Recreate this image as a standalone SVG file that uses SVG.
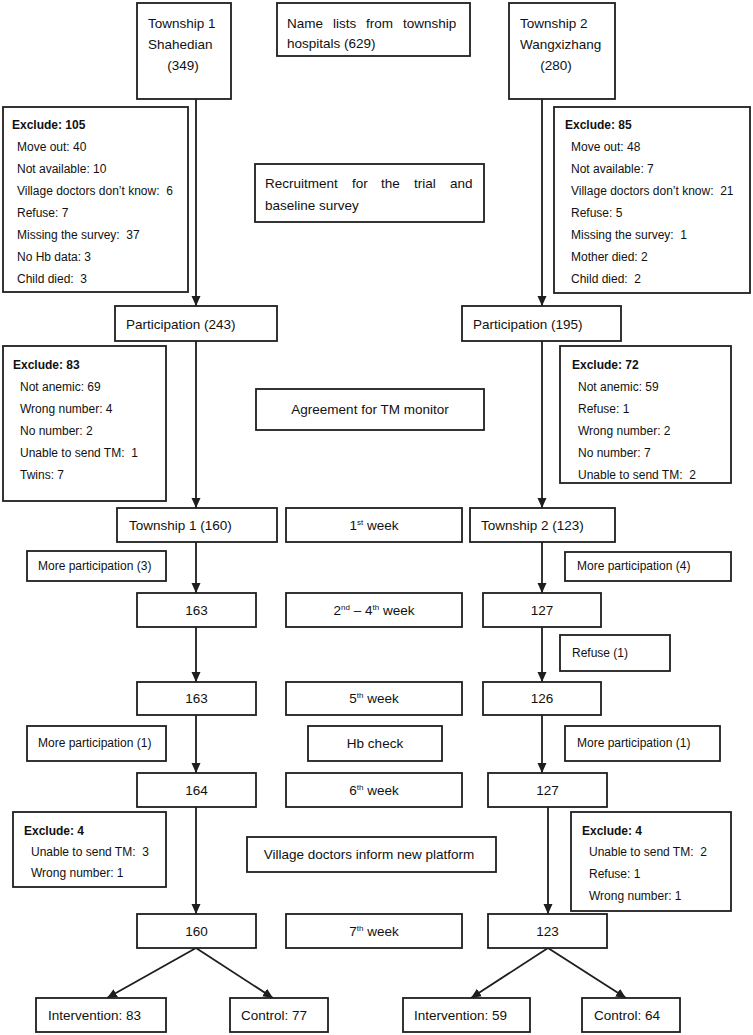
<svg xmlns="http://www.w3.org/2000/svg" width="753" height="1035" viewBox="0 0 753 1035">
<defs>
<style>
.box{fill:#fff;stroke:#1e1e1e;stroke-width:1.8}
.t{font-family:"Liberation Sans",Arial,sans-serif;font-size:13.5px;fill:#111}
.s{font-family:"Liberation Sans",Arial,sans-serif;font-size:12px;fill:#111}
.b{font-weight:bold}
.m{text-anchor:middle}
.ln{stroke:#1e1e1e;stroke-width:1.8;fill:none}
.sup{font-size:8px}
</style>
<marker id="ah" markerUnits="userSpaceOnUse" markerWidth="10" markerHeight="10" viewBox="0 0 10 10" refX="10" refY="5" orient="auto">
<path d="M0,0.5 L10,5 L0,9.5 z" fill="#1e1e1e"/>
</marker>
</defs>
<rect width="753" height="1035" fill="#fff"/>

<g id="connectors">
<line class="ln" x1="196" y1="99" x2="196" y2="306" marker-end="url(#ah)"/>
<line class="ln" x1="196" y1="341" x2="196" y2="508" marker-end="url(#ah)"/>
<line class="ln" x1="196" y1="542" x2="196" y2="593" marker-end="url(#ah)"/>
<line class="ln" x1="196" y1="627" x2="196" y2="682" marker-end="url(#ah)"/>
<line class="ln" x1="196" y1="715" x2="196" y2="773" marker-end="url(#ah)"/>
<line class="ln" x1="196" y1="807" x2="196" y2="914" marker-end="url(#ah)"/>
<line class="ln" x1="542" y1="99" x2="542" y2="306" marker-end="url(#ah)"/>
<line class="ln" x1="542" y1="341" x2="542" y2="508" marker-end="url(#ah)"/>
<line class="ln" x1="542" y1="542" x2="542" y2="593" marker-end="url(#ah)"/>
<line class="ln" x1="542" y1="627" x2="542" y2="682" marker-end="url(#ah)"/>
<line class="ln" x1="542" y1="715" x2="542" y2="773" marker-end="url(#ah)"/>
<line class="ln" x1="548" y1="807" x2="548" y2="914" marker-end="url(#ah)"/>
<line class="ln" x1="196" y1="948" x2="107" y2="998" marker-end="url(#ah)"/>
<line class="ln" x1="196" y1="948" x2="273" y2="998" marker-end="url(#ah)"/>
<line class="ln" x1="548" y1="948" x2="471" y2="998" marker-end="url(#ah)"/>
<line class="ln" x1="548" y1="948" x2="626" y2="998" marker-end="url(#ah)"/>
</g>

<g id="township1">
<rect class="box" x="137" y="3" width="94" height="96"/>
<text class="t" x="148" y="28">Township 1</text>
<text class="t" x="148" y="49">Shahedian</text>
<text class="t m" x="183" y="70">(349)</text>
</g>
<g id="namelists">
<rect class="box" x="277" y="3" width="193" height="53"/>
<text class="t" y="28"><tspan x="287">Name</tspan><tspan x="333">lists</tspan><tspan x="366">from</tspan><tspan x="403">township</tspan></text>
<text class="t" x="287" y="48">hospitals (629)</text>
</g>
<g id="township2">
<rect class="box" x="509" y="3" width="106" height="96"/>
<text class="t" x="520" y="28">Township 2</text>
<text class="t" x="520" y="49">Wangxizhang</text>
<text class="t m" x="556" y="70">(280)</text>
</g>

<g id="exclude105">
<rect class="box" x="3" y="107" width="185" height="185"/>
<text class="s b" x="12" y="129">Exclude: 105</text>
<text class="s" x="17" y="151">Move out: 40</text>
<text class="s" x="17" y="173">Not available: 10</text>
<text class="s" x="17" y="195">Village doctors don’t know:&#160; 6</text>
<text class="s" x="17" y="217">Refuse: 7</text>
<text class="s" x="17" y="239">Missing the survey:&#160; 37</text>
<text class="s" x="17" y="261">No Hb data: 3</text>
<text class="s" x="17" y="283">Child died:&#160; 3</text>
</g>
<g id="recruitment">
<rect class="box" x="255" y="164" width="229" height="58"/>
<text class="t" y="188"><tspan x="265">Recruitment</tspan><tspan x="352">for</tspan><tspan x="381">the</tspan><tspan x="414">trial</tspan><tspan x="450">and</tspan></text>
<text class="t" x="265" y="210">baseline survey</text>
</g>
<g id="exclude85">
<rect class="box" x="554" y="107" width="196" height="186"/>
<text class="s b" x="565" y="129">Exclude: 85</text>
<text class="s" x="571" y="151">Move out: 48</text>
<text class="s" x="571" y="173">Not available: 7</text>
<text class="s" x="571" y="195">Village doctors don’t know:&#160; 21</text>
<text class="s" x="571" y="217">Refuse: 5</text>
<text class="s" x="571" y="239">Missing the survey:&#160; 1</text>
<text class="s" x="571" y="261">Mother died: 2</text>
<text class="s" x="571" y="283">Child died:&#160; 2</text>
</g>

<g id="participation1">
<rect class="box" x="115" y="306" width="162" height="35"/>
<text class="t" x="126" y="329">Participation (243)</text>
</g>
<g id="participation2">
<rect class="box" x="462" y="306" width="159" height="35"/>
<text class="t" x="473" y="329">Participation (195)</text>
</g>

<g id="exclude83">
<rect class="box" x="3" y="346" width="163" height="155"/>
<text class="s b" x="13" y="369">Exclude: 83</text>
<text class="s" x="20" y="391">Not anemic: 69</text>
<text class="s" x="20" y="413">Wrong number: 4</text>
<text class="s" x="20" y="435">No number: 2</text>
<text class="s" x="20" y="457">Unable to send TM:&#160; 1</text>
<text class="s" x="20" y="479">Twins: 7</text>
</g>
<g id="agreement">
<rect class="box" x="256" y="389" width="228" height="41"/>
<text class="t m" x="370" y="414">Agreement for TM monitor</text>
</g>
<g id="exclude72">
<rect class="box" x="560" y="346" width="171" height="137"/>
<text class="s b" x="572" y="369">Exclude: 72</text>
<text class="s" x="578" y="391">Not anemic: 59</text>
<text class="s" x="578" y="413">Refuse: 1</text>
<text class="s" x="578" y="435">Wrong number: 2</text>
<text class="s" x="578" y="457">No number: 7</text>
<text class="s" x="578" y="479">Unable to send TM:&#160; 2</text>
</g>

<g id="t1-160">
<rect class="box" x="117" y="508" width="160" height="34"/>
<text class="t" x="129" y="530">Township 1 (160)</text>
</g>
<g id="week1">
<rect class="box" x="286" y="508" width="176" height="34"/>
<text class="t m" x="374" y="530">1<tspan class="sup" dy="-5">st</tspan><tspan dy="5"> week</tspan></text>
</g>
<g id="t2-123">
<rect class="box" x="470" y="508" width="145" height="34"/>
<text class="t" x="481" y="530">Township 2 (123)</text>
</g>

<g id="more3">
<rect class="box" x="27" y="551" width="139" height="30"/>
<text class="s" x="38" y="570">More participation (3)</text>
</g>
<g id="more4">
<rect class="box" x="565" y="552" width="166" height="29"/>
<text class="s" x="577" y="570">More participation (4)</text>
</g>

<g id="n163a">
<rect class="box" x="137" y="593" width="119" height="34"/>
<text class="t m" x="196.5" y="615">163</text>
</g>
<g id="week2-4">
<rect class="box" x="286" y="593" width="176" height="34"/>
<text class="t m" x="374" y="615">2<tspan class="sup" dy="-5">nd</tspan><tspan dy="5"> – 4</tspan><tspan class="sup" dy="-5">th</tspan><tspan dy="5"> week</tspan></text>
</g>
<g id="n127a">
<rect class="box" x="483" y="593" width="118" height="34"/>
<text class="t m" x="542" y="615">127</text>
</g>

<g id="refuse1">
<rect class="box" x="560" y="635" width="110" height="36"/>
<text class="s" x="572" y="657">Refuse (1)</text>
</g>

<g id="n163b">
<rect class="box" x="137" y="682" width="119" height="33"/>
<text class="t m" x="196.5" y="703">163</text>
</g>
<g id="week5">
<rect class="box" x="286" y="682" width="176" height="33"/>
<text class="t m" x="374" y="703">5<tspan class="sup" dy="-5">th</tspan><tspan dy="5"> week</tspan></text>
</g>
<g id="n126">
<rect class="box" x="483" y="682" width="118" height="33"/>
<text class="t m" x="542" y="703">126</text>
</g>

<g id="more1a">
<rect class="box" x="27" y="726" width="139" height="35"/>
<text class="s" x="38" y="747">More participation (1)</text>
</g>
<g id="hbcheck">
<rect class="box" x="308" y="726" width="134" height="35"/>
<text class="t m" x="375" y="748">Hb check</text>
</g>
<g id="more1b">
<rect class="box" x="565" y="726" width="155" height="35"/>
<text class="s" x="577" y="747">More participation (1)</text>
</g>

<g id="n164">
<rect class="box" x="137" y="773" width="119" height="34"/>
<text class="t m" x="196.5" y="795">164</text>
</g>
<g id="week6">
<rect class="box" x="286" y="773" width="176" height="34"/>
<text class="t m" x="374" y="795">6<tspan class="sup" dy="-5">th</tspan><tspan dy="5"> week</tspan></text>
</g>
<g id="n127b">
<rect class="box" x="488" y="773" width="119" height="34"/>
<text class="t m" x="547.5" y="795">127</text>
</g>

<g id="exclude4a">
<rect class="box" x="13" y="812" width="153" height="75"/>
<text class="s b" x="24" y="835">Exclude: 4</text>
<text class="s" x="31" y="856">Unable to send TM:&#160; 3</text>
<text class="s" x="31" y="877">Wrong number: 1</text>
</g>
<g id="village">
<rect class="box" x="247" y="837" width="249" height="35"/>
<text class="t m" x="369" y="859">Village doctors inform new platform</text>
</g>
<g id="exclude4b">
<rect class="box" x="571" y="812" width="160" height="99"/>
<text class="s b" x="582" y="835">Exclude: 4</text>
<text class="s" x="589" y="856">Unable to send TM:&#160; 2</text>
<text class="s" x="589" y="878">Refuse: 1</text>
<text class="s" x="589" y="900">Wrong number: 1</text>
</g>

<g id="n160">
<rect class="box" x="137" y="914" width="119" height="34"/>
<text class="t m" x="196.5" y="936">160</text>
</g>
<g id="week7">
<rect class="box" x="286" y="914" width="176" height="34"/>
<text class="t m" x="374" y="936">7<tspan class="sup" dy="-5">th</tspan><tspan dy="5"> week</tspan></text>
</g>
<g id="n123">
<rect class="box" x="488" y="914" width="119" height="34"/>
<text class="t m" x="547.5" y="936">123</text>
</g>

<g id="int83">
<rect class="box" x="36" y="998" width="130" height="34"/>
<text class="t" x="48" y="1020">Intervention: 83</text>
</g>
<g id="ctl77">
<rect class="box" x="230" y="998" width="98" height="34"/>
<text class="t" x="241" y="1020">Control: 77</text>
</g>
<g id="int59">
<rect class="box" x="403" y="998" width="127" height="34"/>
<text class="t" x="414" y="1020">Intervention: 59</text>
</g>
<g id="ctl64">
<rect class="box" x="582" y="998" width="98" height="34"/>
<text class="t" x="594" y="1020">Control: 64</text>
</g>
</svg>
